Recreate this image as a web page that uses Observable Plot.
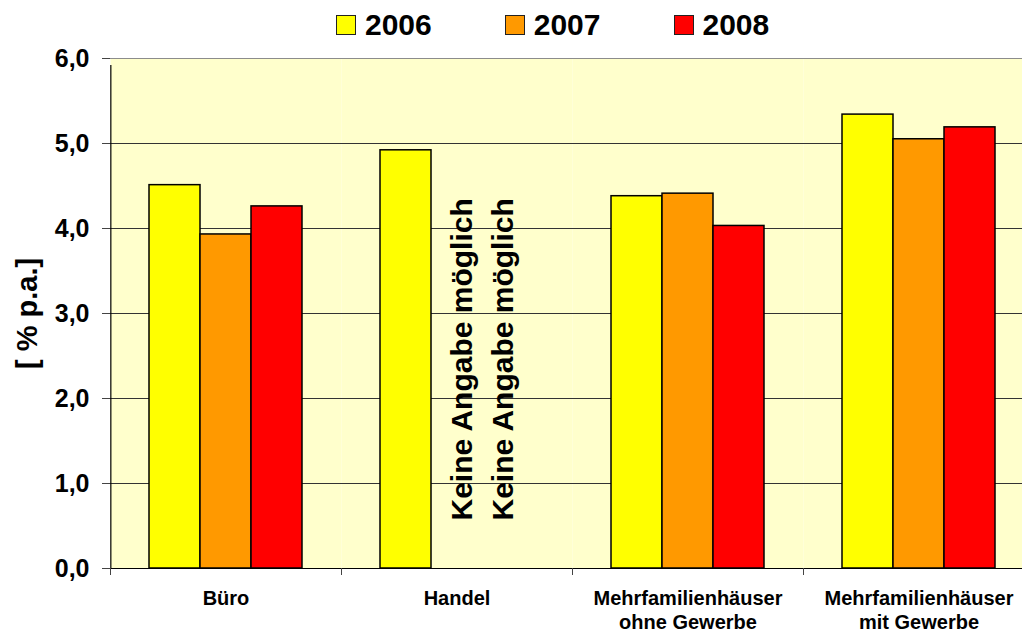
<!DOCTYPE html>
<html><head><meta charset="utf-8">
<script src="https://cdn.jsdelivr.net/npm/d3@7"></script>
<script src="https://cdn.jsdelivr.net/npm/@observablehq/plot@0.6"></script>
<style>
body{margin:0;background:#fff;overflow:hidden;font-family:"Liberation Sans",Arial,sans-serif;position:relative;}
#legend{position:absolute;top:0;left:0;height:50px;display:flex;align-items:center;padding-left:336px;font-weight:bold;font-size:30px;color:#000;z-index:2;}
.item{display:flex;align-items:center;margin-right:73px;}
.sw{width:18px;height:18px;border:1px solid #222;margin-right:9px;}
#chart svg{overflow:hidden}
</style></head><body>
<div id="legend"></div>
<div id="chart"></div>
<script>
const categories = ["Büro", "Handel", "Mehrfamilienhäuser\nohne Gewerbe", "Mehrfamilienhäuser\nmit Gewerbe"];
const years = ["2006", "2007", "2008"];
const v2006 = [4.51, 4.92, 4.38, 5.34];
const v2007 = [3.93, null, 4.41, 5.05];
const v2008 = [4.26, null, 4.03, 5.19];
const yTicks = [0, 1, 2, 3, 4, 5, 6];
const gridValues = [1, 2, 3, 4, 5];
const yLabel = "[ % p.a.]";
const noteText = "Keine Angabe möglich";
const colors = ["#FFFF00", "#FF9900", "#FF0000"];
const bg = "#FFFFCC";

const series = [v2006, v2007, v2008];
const table = [];
categories.forEach((c, i) => years.forEach((y, j) => {
  if (series[j][i] != null) table.push({category: c, year: y, value: series[j][i]});
}));
const notes = [];
categories.forEach((c, i) => years.forEach((y, j) => {
  if (series[j][i] == null) notes.push({category: c, year: y, text: noteText});
}));

// legend
const legend = document.getElementById("legend");
years.forEach((y, j) => {
  const it = document.createElement("div"); it.className = "item";
  const sw = document.createElement("div"); sw.className = "sw"; sw.style.background = colors[j];
  const tx = document.createElement("span"); tx.textContent = y;
  it.appendChild(sw); it.appendChild(tx); legend.appendChild(it);
});

const fmt = d => d3.format(".1f")(d).replace(".", ",");
const bandHalf = 115.5;

const chart = Plot.plot({
  width: 1022, height: 633,
  marginTop: 58, marginBottom: 65, marginLeft: 110, marginRight: -12,
  style: {fontFamily: "Liberation Sans, Arial, sans-serif", background: "white", overflow: "hidden"},
  fx: {domain: categories, padding: 0, axis: null, label: null},
  x: {domain: years, paddingInner: 0, paddingOuter: 0.75, axis: null},
  y: {domain: [0, 6], axis: null},
  color: {domain: years, range: colors},
  marks: [
    Plot.frame({fill: bg, stroke: null}),
    Plot.ruleY(gridValues, {stroke: "#333", strokeWidth: 1}),
    Plot.ruleY([6], {stroke: "#8c8c8c", strokeWidth: 1}),
    Plot.barY(table, {fx: "category", x: "year", y: "value", fill: "year", stroke: "#000", strokeWidth: 1.5, inset: 0}),
    Plot.ruleY([0], {stroke: "#000", strokeWidth: 1.2}),
    Plot.ruleX([categories[0]], {fx: d => d, x: () => years[0], y1: 0, y2: 6, dx: -(51.33 / 2 + 38.5), insetBottom: -7, stroke: "#000", strokeWidth: 1.2}),
    Plot.text(notes.filter(d => d.year === years[1]), {fx: "category", x: "year", y: 0, text: "text", rotate: -90, textAnchor: "start", lineAnchor: "middle", dy: -48, dx: 5.5, fontSize: 30, fontWeight: "bold", fill: "#000"}),
    Plot.text(notes.filter(d => d.year === years[2]), {fx: "category", x: "year", y: 0, text: "text", rotate: -90, textAnchor: "start", lineAnchor: "middle", dy: -48, dx: -5, fontSize: 30, fontWeight: "bold", fill: "#000"}),
    Plot.text([{category: categories[0], text: yLabel}], {fx: "category", text: "text", frameAnchor: "left", rotate: -90, lineAnchor: "middle", textAnchor: "middle", dx: -83, fontSize: 29, fontWeight: "bold", fill: "#000"}),
    Plot.axisY({ticks: yTicks, tickSize: 8, tickFormat: () => "", stroke: "#444", label: null}),
    Plot.axisY({ticks: yTicks, tickSize: 0, tickPadding: 21, tickFormat: fmt, fontSize: 25, fontWeight: "bold", fill: "#000", label: null}),
    Plot.axisFx({anchor: "bottom", tickSize: 7, tickFormat: () => "", dx: -bandHalf, stroke: "#444", label: null}),
    Plot.axisFx({anchor: "bottom", tickSize: 0, tickPadding: 19, fontSize: 20, fontWeight: "bold", lineHeight: 1.2, fill: "#000", label: null})
  ]
});
document.getElementById("chart").appendChild(chart);
</script>
</body></html>
